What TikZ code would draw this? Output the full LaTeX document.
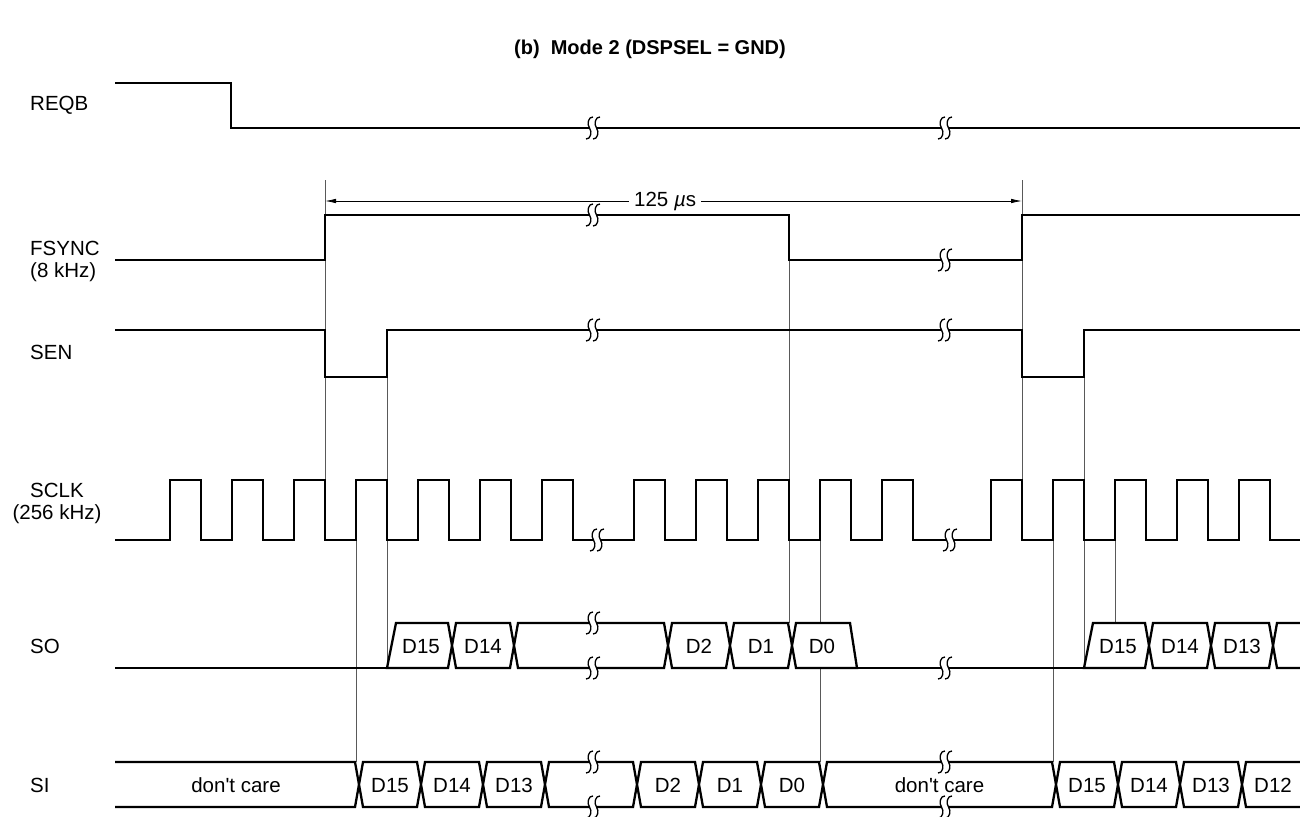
\documentclass[tikz,border=0pt]{standalone}
\usepackage{fontspec}
\setmainfont{Liberation Sans}
\usetikzlibrary{arrows.meta}
\newcommand\brkmark[2]{%
  \fill[white] (#1-3.5,#2-2.7) rectangle (#1+3.5,#2+2.7);
  \foreach \dx in {-3.5,3.5}{%
    \draw[line width=1.3pt] (#1+\dx+3.5,#2-11) .. controls (#1+\dx-1,#2-11.5) and (#1+\dx-3,#2-4) .. (#1+\dx,#2) .. controls (#1+\dx+3,#2+4) and (#1+\dx+1,#2+11.5) .. (#1+\dx-3.5,#2+11);
  }}
% cell: xa, xb, ytop, text, name
\newcommand\buscell[5]{%
  \draw[sig,fill=white] (#1,#3+22.5) -- (#1+4,#3) -- (#2-4,#3) -- (#2,#3+22.5) -- (#2-4,#3+45) -- (#1+4,#3+45) -- cycle;
  \node[lbl,anchor=base] (#5) at ({(#1+#2)/2},#3+30) {#4};}
\newcommand\dontcare{don\textquotesingle t care}
\begin{document}
\begin{tikzpicture}[x=1pt,y=-1pt,
  sig/.style={line width=2.3pt, line join=miter},
  guide/.style={line width=0.9pt, black!65},
  lbl/.style={font=\fontsize{20.5}{24}\selectfont, inner sep=0pt},
  ttl/.style={font=\fontsize{20}{24}\selectfont\bfseries, inner sep=0pt}]
\useasboundingbox (0,0) rectangle (1300,816);

% title
\node[ttl,anchor=base] (title) at (650,55) {(b)\ \ Mode 2 (DSPSEL = GND)};

% signal labels
\node[lbl,anchor=base west] (lreqb) at (30,110) {REQB};
\node[lbl,anchor=base west] (lfs1) at (30,255) {FSYNC};
\node[lbl,anchor=base west] (lfs2) at (30,277) {(8 kHz)};
\node[lbl,anchor=base west] (lsen) at (30,359) {SEN};
\node[lbl,anchor=base] (lsck1) at (57,497) {SCLK};
\node[lbl,anchor=base] (lsck2) at (57,519) {(256 kHz)};
\node[lbl,anchor=base west] (lso) at (30,653) {SO};
\node[lbl,anchor=base west] (lsi) at (30,792) {SI};

% guide lines
\draw[guide] (325,180) -- (325,540);
\draw[guide] (1022,180) -- (1022,540);
\draw[guide] (387,377) -- (387,668);
\draw[guide] (356,540) -- (356,762);
\draw[guide] (789,260) -- (789,623);
\draw[guide] (820,540) -- (820,762);
\draw[guide] (1053,540) -- (1053,762);
\draw[guide] (1084,377) -- (1084,668);
\draw[guide] (1115,540) -- (1115,623);

% 125 us arrow
\coordinate (a1) at (325,201);
\coordinate (a2) at (1022,201);
\draw[line width=0.8pt,{Latex[length=11pt,width=4.5pt]}-{Latex[length=11pt,width=4.5pt]}] (a1) -- node[pos=0.488,lbl,fill=white,inner xsep=5pt,inner ysep=2pt] (t125) {125 \textit{µ}s} (a2);

% REQB
\draw[sig] (115,83) -- (231,83) -- (231,128) -- (1300,128);
\brkmark{593}{128}
\brkmark{945}{128}

% FSYNC
\draw[sig] (115,260) -- (325,260) -- (325,215) -- (789,215) -- (789,260) -- (1022,260) -- (1022,215) -- (1300,215);
\brkmark{593}{215}
\brkmark{945}{260}

% SEN
\draw[sig] (115,330) -- (325,330) -- (325,377) -- (387,377) -- (387,330) -- (1022,330) -- (1022,377) -- (1084,377) -- (1084,330) -- (1300,330);
\brkmark{593}{330}
\brkmark{945}{330}

% SCLK
\draw[sig] (115,540) \foreach \r in {170,232,294,356,418,480,542,634,696,758,820,882,991,1053,1115,1177,1239}{ -- (\r,540) -- (\r,480) -- (\r+31,480) -- (\r+31,540)} -- (1300,540);
\brkmark{597}{540}
\brkmark{950}{540}

% SO
\draw[sig] (115,668) -- (387,668);
\draw[sig] (857,668) -- (1084,668);
\draw[sig,fill=white] (387,668) -- (396,623) -- (448,623) -- (452,645.5) -- (448,668) -- cycle;
\node[lbl,anchor=base] (so15a) at (421,653) {D15};
\buscell{452}{514}{623}{D14}{so14a}
\buscell{514}{668}{623}{}{sogap}
\buscell{668}{730}{623}{D2}{so2}
\buscell{730}{792}{623}{D1}{so1}
\draw[sig,fill=white] (792,645.5) -- (796,623) -- (850,623) -- (857,668) -- (796,668) -- cycle;
\node[lbl,anchor=base] (so0) at (822,653) {D0};
\draw[sig,fill=white] (1084,668) -- (1093,623) -- (1145,623) -- (1149,645.5) -- (1145,668) -- cycle;
\node[lbl,anchor=base] (so15b) at (1118,653) {D15};
\buscell{1149}{1211}{623}{D14}{so14b}
\buscell{1211}{1273}{623}{D13}{so13b}
\draw[sig] (1300,623) -- (1277,623) -- (1273,645.5) -- (1277,668) -- (1300,668);
\brkmark{593}{623}
\brkmark{593}{668}
\brkmark{945}{668}

% SI
\draw[sig,fill=white] (115,762) -- (355,762) -- (359,784.5) -- (355,807) -- (115,807);
\node[lbl,anchor=base] (sidc1) at (236,792) {\dontcare};
\buscell{359}{421}{762}{D15}{si15a}
\buscell{421}{483}{762}{D14}{si14a}
\buscell{483}{545}{762}{D13}{si13a}
\buscell{545}{637}{762}{}{sigap}
\buscell{637}{699}{762}{D2}{si2}
\buscell{699}{761}{762}{D1}{si1}
\buscell{761}{823}{762}{D0}{si0}
\buscell{823}{1056}{762}{\dontcare}{sidc2}
\buscell{1056}{1118}{762}{D15}{si15b}
\buscell{1118}{1180}{762}{D14}{si14b}
\buscell{1180}{1242}{762}{D13}{si13b}
\draw[sig,fill=white] (1300,762) -- (1246,762) -- (1242,784.5) -- (1246,807) -- (1300,807);
\node[lbl,anchor=base] (si12b) at (1273,792) {D12};
\brkmark{593}{762}
\brkmark{593}{807}
\brkmark{945}{762}
\brkmark{945}{807}
\end{tikzpicture}
\end{document}
